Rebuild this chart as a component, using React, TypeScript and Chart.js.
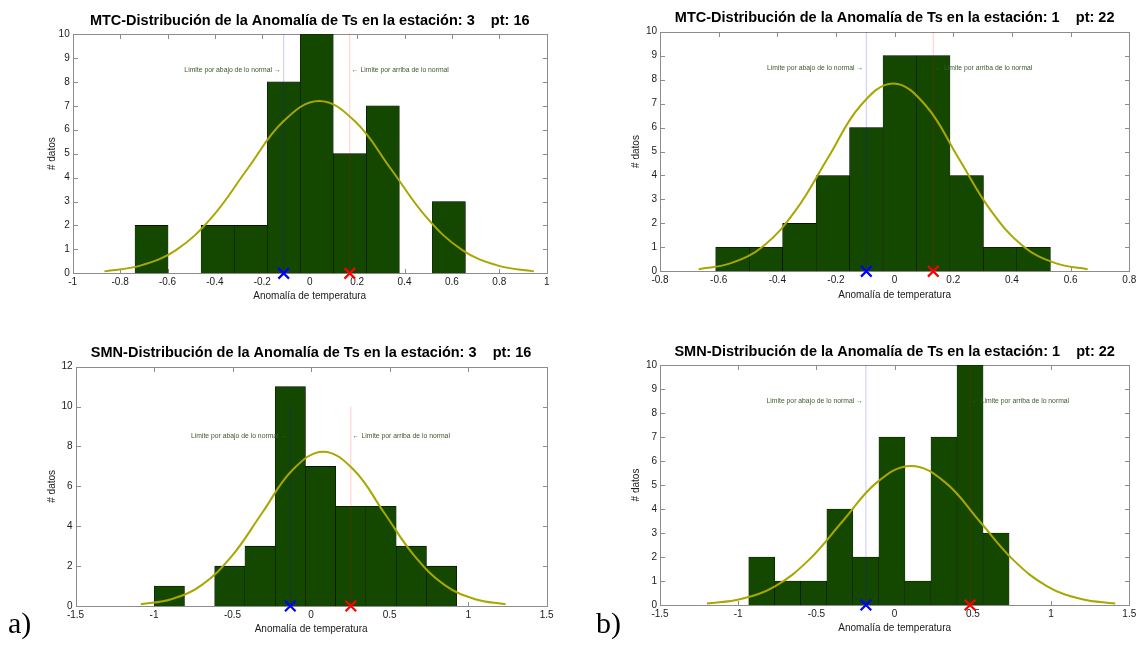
import React, { useEffect, useRef } from 'react';
import { Chart, registerables } from 'chart.js';

Chart.register(...registerables);

// ---------------- DATA ----------------
// Panel a) top: MTC, estación 3, pt 16
const mtc3Title = 'MTC-Distribución de la Anomalía de Ts en la estación: 3    pt: 16';
const mtc3Centers = [-0.6673, -0.5279, -0.3885, -0.2491, -0.1097, 0.0297, 0.1691, 0.3085, 0.4479, 0.5873];
const mtc3Counts = [2, 0, 2, 2, 8, 10, 5, 7, 0, 3];
const mtc3CurveX = [-0.866, -0.715, -0.564, -0.413, -0.262, -0.111, 0.04, 0.191, 0.342, 0.493, 0.644, 0.795, 0.946];
const mtc3CurveY = [0.08, 0.32, 0.97, 2.34, 4.37, 6.35, 7.2, 6.35, 4.37, 2.34, 0.97, 0.32, 0.08];
const mtc3Lower = -0.1097;
const mtc3Upper = 0.1691;
const mtc3XTicks = { min: -1, max: 1, step: 0.2 };
const mtc3YTicks = { min: 0, max: 10, step: 1 };

// Panel b) top: MTC, estación 1, pt 22
const mtc1Title = 'MTC-Distribución de la Anomalía de Ts en la estación: 1    pt: 22';
const mtc1Centers = [-0.553, -0.4389, -0.3248, -0.2107, -0.0966, 0.0175, 0.1316, 0.2457, 0.3598, 0.4739];
const mtc1Counts = [1, 1, 2, 4, 6, 9, 9, 4, 1, 1];
const mtc1CurveX = [-0.668, -0.558, -0.447, -0.337, -0.226, -0.116, -0.005, 0.106, 0.216, 0.327, 0.437, 0.548, 0.658];
const mtc1CurveY = [0.09, 0.34, 1.06, 2.55, 4.76, 6.92, 7.84, 6.92, 4.76, 2.55, 1.06, 0.34, 0.09];
const mtc1Lower = -0.0966;
const mtc1Upper = 0.1316;
const mtc1XTicks = { min: -0.8, max: 0.8, step: 0.2 };
const mtc1YTicks = { min: 0, max: 10, step: 1 };

// Panel a) bottom: SMN, estación 3, pt 16
const smn3Title = 'SMN-Distribución de la Anomalía de Ts en la estación: 3    pt: 16';
const smn3Centers = [-0.9027, -0.7101, -0.5175, -0.3249, -0.1323, 0.0603, 0.2529, 0.4455, 0.6381, 0.8307];
const smn3Counts = [1, 0, 2, 3, 11, 7, 5, 5, 3, 2];
const smn3CurveX = [-1.084, -0.89, -0.697, -0.504, -0.31, -0.117, 0.077, 0.271, 0.464, 0.658, 0.851, 1.045, 1.238];
const smn3CurveY = [0.09, 0.34, 1.05, 2.51, 4.69, 6.83, 7.74, 6.83, 4.69, 2.51, 1.05, 0.34, 0.09];
const smn3Lower = -0.1323;
const smn3Upper = 0.2529;
const smn3XTicks = { min: -1.5, max: 1.5, step: 0.5 };
const smn3YTicks = { min: 0, max: 12, step: 2 };

// Panel b) bottom: SMN, estación 1, pt 22
const smn1Title = 'SMN-Distribución de la Anomalía de Ts en la estación: 1    pt: 22';
const smn1Centers = [-0.8493, -0.6829, -0.5165, -0.3501, -0.1837, -0.0173, 0.1491, 0.3155, 0.4819, 0.6483];
const smn1Counts = [2, 1, 1, 4, 2, 7, 1, 7, 10, 3];
const smn1CurveX = [-1.2, -0.983, -0.765, -0.548, -0.33, -0.113, 0.105, 0.323, 0.54, 0.758, 0.975, 1.193, 1.41];
const smn1CurveY = [0.06, 0.25, 0.78, 1.88, 3.51, 5.11, 5.79, 5.11, 3.51, 1.88, 0.78, 0.25, 0.06];
const smn1Lower = -0.1837;
const smn1Upper = 0.4819;
const smn1XTicks = { min: -1.5, max: 1.5, step: 0.5 };
const smn1YTicks = { min: 0, max: 10, step: 1 };

const limitLineTop = 10;
const noteY = 8.5;
const xAxisLabel = 'Anomalía de temperatura';
const yAxisLabel = '# datos';
const noteLowerText = 'Limite por abajo de lo normal \u2192';
const noteUpperText = '\u2190 Limite por arriba de lo normal';

// ---------------- STYLE / LAYOUT ----------------
const FONT = "'Liberation Sans', Arial, Helvetica, sans-serif";
const TITLE_SIZE = 14.5;
const LABEL_SIZE = 10;
const TICK_LEN = 4.5;

type Frame = {
  cx: number; cy: number; cw: number; ch: number;
  ax0: number; ax1: number; ay0: number; ay1: number;
  titleY: number; yLabX: number; xLabY: number;
};

type Spec = {
  title: string;
  centers: number[];
  counts: number[];
  curveX: number[];
  curveY: number[];
  lower: number;
  upper: number;
  xt: { min: number; max: number; step: number };
  yt: { min: number; max: number; step: number };
  frame: Frame;
};

const specs: Spec[] = [
  {
    title: mtc3Title, centers: mtc3Centers, counts: mtc3Counts, curveX: mtc3CurveX, curveY: mtc3CurveY,
    lower: mtc3Lower, upper: mtc3Upper, xt: mtc3XTicks, yt: mtc3YTicks,
    frame: { cx: 0, cy: 0, cw: 569, ch: 324, ax0: 72.7, ax1: 546.7, ay0: 34, ay1: 273.3, titleY: 20.5, yLabX: 52, xLabY: 296.7 },
  },
  {
    title: mtc1Title, centers: mtc1Centers, counts: mtc1Counts, curveX: mtc1CurveX, curveY: mtc1CurveY,
    lower: mtc1Lower, upper: mtc1Upper, xt: mtc1XTicks, yt: mtc1YTicks,
    frame: { cx: 569, cy: 0, cw: 570, ch: 324, ax0: 660, ax1: 1132, ay0: 31.7, ay1: 271.3, titleY: 18.2, yLabX: 636.5, xLabY: 295.3 },
  },
  {
    title: smn3Title, centers: smn3Centers, counts: smn3Counts, curveX: smn3CurveX, curveY: smn3CurveY,
    lower: smn3Lower, upper: smn3Upper, xt: smn3XTicks, yt: smn3YTicks,
    frame: { cx: 0, cy: 324, cw: 569, ch: 324, ax0: 75.5, ax1: 546.7, ay0: 366.7, ay1: 606, titleY: 353.2, yLabX: 52.6, xLabY: 629.7 },
  },
  {
    title: smn1Title, centers: smn1Centers, counts: smn1Counts, curveX: smn1CurveX, curveY: smn1CurveY,
    lower: smn1Lower, upper: smn1Upper, xt: smn1XTicks, yt: smn1YTicks,
    frame: { cx: 569, cy: 324, cw: 570, ch: 324, ax0: 660, ax1: 1132.3, ay0: 365, ay1: 605, titleY: 351.5, yLabX: 636.5, xLabY: 628.7 },
  },
];

const fmt = (v: number | string) => {
  const n = Math.round(Number(v) * 100) / 100;
  return String(n === 0 ? 0 : n);
};

const framePlugin = {
  id: 'matlabFrame',
  beforeDatasetsDraw(chart: any) {
    const { ctx, chartArea: a, scales } = chart;
    const x = scales.x;
    const y = scales.y;
    const L = Math.round(a.left) + 0.5;
    const R = Math.round(a.right) + 0.5;
    const T = Math.round(a.top) + 0.5;
    const B = Math.round(a.bottom) + 0.5;
    ctx.save();
    ctx.strokeStyle = '#8c8c8c';
    ctx.lineWidth = 1;
    ctx.beginPath();
    x.ticks.forEach((_t: any, i: number) => {
      const p = Math.round(x.getPixelForTick(i)) + 0.5;
      ctx.moveTo(p, B); ctx.lineTo(p, B - TICK_LEN);
      ctx.moveTo(p, T); ctx.lineTo(p, T + TICK_LEN);
    });
    y.ticks.forEach((_t: any, i: number) => {
      const p = Math.round(y.getPixelForTick(i)) + 0.5;
      ctx.moveTo(L, p); ctx.lineTo(L + TICK_LEN, p);
      ctx.moveTo(R, p); ctx.lineTo(R - TICK_LEN, p);
    });
    ctx.stroke();
    ctx.strokeRect(L, T, R - L, B - T);
    ctx.restore();
  },
};

const notesPlugin = {
  id: 'limitNotes',
  afterDatasetsDraw(chart: any, _args: any, opts: any) {
    const { ctx, scales } = chart;
    const x = scales.x;
    const y = scales.y;
    const py = y.getPixelForValue(opts.y);
    ctx.save();
    ctx.font = `6.8px ${FONT}`;
    ctx.fillStyle = '#3b5a2c';
    ctx.textBaseline = 'middle';
    ctx.textAlign = 'right';
    ctx.fillText(noteLowerText, x.getPixelForValue(opts.lower) - 3, py);
    ctx.textAlign = 'left';
    ctx.fillText(noteUpperText, x.getPixelForValue(opts.upper) + 2, py);
    ctx.restore();
  },
};

function Panel({ spec }: { spec: Spec }) {
  const ref = useRef<HTMLCanvasElement>(null);
  useEffect(() => {
    const f = spec.frame;
    const tLH = TITLE_SIZE * 1.2;
    const lLH = LABEL_SIZE * 1.2;
    const titleTop = f.titleY - f.cy - tLH / 2;
    const titleBottom = f.ay0 - f.cy - tLH - titleTop;
    const chart = new Chart(ref.current as HTMLCanvasElement, {
      type: 'bar',
      data: {
        datasets: [
          {
            type: 'line',
            data: [{ x: spec.lower, y: 0 }],
            showLine: false,
            pointStyle: 'crossRot',
            pointRadius: 7.5,
            pointBorderWidth: 2.2,
            borderColor: '#0000ff',
            backgroundColor: '#0000ff',
            clip: false,
            order: 0,
          } as any,
          {
            type: 'line',
            data: [{ x: spec.upper, y: 0 }],
            showLine: false,
            pointStyle: 'crossRot',
            pointRadius: 7.5,
            pointBorderWidth: 2.2,
            borderColor: '#ff0000',
            backgroundColor: '#ff0000',
            clip: false,
            order: 0,
          } as any,
          {
            type: 'line',
            data: spec.curveX.map((v, i) => ({ x: v, y: spec.curveY[i] })),
            borderColor: '#a9a600',
            borderWidth: 2,
            pointRadius: 0,
            tension: 0.4,
            fill: false,
            order: 1,
          } as any,
          {
            type: 'line',
            data: [{ x: spec.lower, y: 0 }, { x: spec.lower, y: limitLineTop }],
            borderColor: 'rgba(0,0,255,0.22)',
            borderWidth: 1,
            pointRadius: 0,
            order: 2,
          } as any,
          {
            type: 'line',
            data: [{ x: spec.upper, y: 0 }, { x: spec.upper, y: limitLineTop }],
            borderColor: 'rgba(255,0,0,0.2)',
            borderWidth: 1,
            pointRadius: 0,
            order: 2,
          } as any,
          {
            type: 'bar',
            data: spec.centers.map((c, i) => ({ x: c, y: spec.counts[i] })),
            backgroundColor: '#144800',
            borderColor: '#000000',
            borderWidth: { top: 0.6, left: 0.5, right: 0.5, bottom: 0 },
            borderSkipped: 'start',
            barPercentage: 1,
            categoryPercentage: 1,
            order: 3,
          } as any,
        ],
      },
      options: {
        responsive: false,
        animation: false,
        devicePixelRatio: 1,
        events: [],
        layout: { padding: { left: 0, top: 0, bottom: 0, right: f.cx + f.cw - f.ax1 } },
        plugins: {
          legend: { display: false },
          tooltip: { enabled: false },
          title: {
            display: true,
            text: spec.title,
            fullSize: false,
            color: '#000',
            font: { family: FONT, size: TITLE_SIZE, weight: 'bold', lineHeight: 1.2 },
            padding: { top: titleTop, bottom: titleBottom },
          },
          limitNotes: { lower: spec.lower, upper: spec.upper, y: noteY },
        } as any,
        scales: {
          x: {
            type: 'linear',
            min: spec.xt.min,
            max: spec.xt.max,
            offset: false,
            grid: { display: false, drawTicks: false },
            border: { display: false },
            ticks: {
              stepSize: spec.xt.step,
              padding: 3,
              maxRotation: 0,
              autoSkip: false,
              color: '#1a1a1a',
              font: { family: FONT, size: LABEL_SIZE },
              callback: (v: any) => fmt(v),
            },
            title: {
              display: true,
              text: xAxisLabel,
              color: '#1a1a1a',
              font: { family: FONT, size: LABEL_SIZE, lineHeight: 1.2 },
              padding: { top: 0, bottom: f.cy + f.ch - f.xLabY - lLH / 2 },
            },
            afterFit: (s: any) => {
              s.height = f.cy + f.ch - f.ay1;
              s.paddingLeft = 0;
              s.paddingRight = 0;
            },
          },
          y: {
            type: 'linear',
            min: spec.yt.min,
            max: spec.yt.max,
            grid: { display: false, drawTicks: false },
            border: { display: false },
            ticks: {
              stepSize: spec.yt.step,
              padding: 3,
              color: '#1a1a1a',
              font: { family: FONT, size: LABEL_SIZE },
              callback: (v: any) => fmt(v),
            },
            title: {
              display: true,
              text: yAxisLabel,
              color: '#1a1a1a',
              font: { family: FONT, size: LABEL_SIZE, lineHeight: 1.2 },
              padding: { top: f.yLabX - f.cx - lLH / 2, bottom: 0 },
            },
            afterFit: (s: any) => {
              s.width = f.ax0 - f.cx;
              s.paddingTop = 0;
              s.paddingBottom = 0;
            },
          },
        } as any,
      },
      plugins: [framePlugin, notesPlugin],
    } as any);
    return () => chart.destroy();
  }, [spec]);
  const f = spec.frame;
  return (
    <canvas
      ref={ref}
      width={f.cw}
      height={f.ch}
      style={{ position: 'absolute', left: f.cx, top: f.cy, width: f.cw, height: f.ch }}
    />
  );
}

export default function App() {
  const labelStyle: React.CSSProperties = {
    position: 'absolute',
    fontFamily: "'Liberation Serif', 'DejaVu Serif', serif",
    fontSize: 30,
    lineHeight: '30px',
    color: '#000',
  };
  return (
    <div style={{ position: 'absolute', left: 0, top: 0, width: 1139, height: 648, background: '#fff', overflow: 'hidden' }}>
      {specs.map((s, i) => (
        <Panel key={i} spec={s} />
      ))}
      <div style={{ ...labelStyle, left: 8, top: 608 }}>a)</div>
      <div style={{ ...labelStyle, left: 596, top: 608 }}>b)</div>
    </div>
  );
}
